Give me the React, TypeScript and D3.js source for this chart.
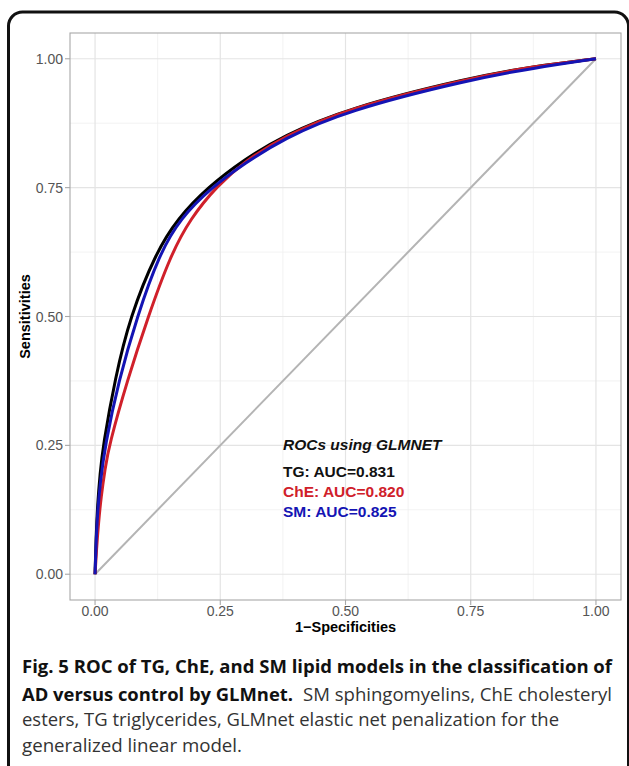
import React from "react";
import * as d3 from "d3";

// ROC points (false positive rate, true positive rate)
const tgFpr = [0, 0.002, 0.005, 0.01, 0.016, 0.04, 0.07, 0.122, 0.165, 0.224, 0.3, 0.375, 0.5, 0.75, 0.875, 1];
const tgTpr = [0, 0.07, 0.135, 0.195, 0.25, 0.38, 0.5, 0.625, 0.69, 0.75, 0.806, 0.85, 0.903, 0.964, 0.985, 1];

const cheFpr = [0, 0.003, 0.007, 0.012, 0.02, 0.028, 0.064, 0.106, 0.15, 0.19, 0.245, 0.3, 0.375, 0.5, 0.75, 0.875, 1];
const cheTpr = [0, 0.05, 0.1, 0.15, 0.205, 0.25, 0.375, 0.5, 0.617, 0.69, 0.755, 0.802, 0.848, 0.903, 0.963, 0.985, 1];

const smFpr = [0, 0.002, 0.005, 0.01, 0.02, 0.047, 0.084, 0.128, 0.17, 0.232, 0.3, 0.375, 0.5, 0.75, 0.875, 1];
const smTpr = [0, 0.06, 0.12, 0.175, 0.25, 0.375, 0.5, 0.62, 0.69, 0.75, 0.798, 0.844, 0.899, 0.96, 0.982, 1];

const majorTicks = [0, 0.25, 0.5, 0.75, 1];
const minorTicks = [0.125, 0.375, 0.625, 0.875];

const legendTitle = "ROCs using GLMNET";
const legendLabels = ["TG: AUC=0.831", "ChE: AUC=0.820", "SM: AUC=0.825"];

const RED = "#d0202a";
const BLUE = "#1414b4";

const series = [
  { name: "TG", fpr: tgFpr, tpr: tgTpr, color: "#000000" },
  { name: "ChE", fpr: cheFpr, tpr: cheTpr, color: RED },
  { name: "SM", fpr: smFpr, tpr: smTpr, color: BLUE },
];

export default function App() {
  const W = 629;
  const H = 766;
  const panel = { left: 70, right: 621, top: 33, bottom: 600 };

  const x = d3.scaleLinear().domain([-0.05, 1.05]).range([panel.left, panel.right]);
  const y = d3.scaleLinear().domain([-0.05, 1.05]).range([panel.bottom, panel.top]);

  // smooth spline through the read points
  const line = d3
    .line<[number, number]>()
    .x((d) => x(d[0]))
    .y((d) => y(d[1]))
    .curve(d3.curveBasis);

  const fmt = d3.format(".2f");
  const axisFont = "Liberation Sans, Arial, sans-serif";
  const capFont = "'Open Sans', sans-serif";

  return (
    <svg
      width={W}
      height={H}
      style={{ position: "absolute", left: 0, top: 0, display: "block", background: "#fff" }}
    >
      {/* outer frame */}
      <rect x={8.5} y={12} width={620} height={800} rx={14} fill="none" stroke="#111" strokeWidth={3} />

      {/* grid */}
      <g>
        {minorTicks.map((t) => (
          <g key={"mn" + t}>
            <line x1={x(t)} x2={x(t)} y1={panel.top} y2={panel.bottom} stroke="#efefef" strokeWidth={0.8} />
            <line y1={y(t)} y2={y(t)} x1={panel.left} x2={panel.right} stroke="#efefef" strokeWidth={0.8} />
          </g>
        ))}
        {majorTicks.map((t) => (
          <g key={"mj" + t}>
            <line x1={x(t)} x2={x(t)} y1={panel.top} y2={panel.bottom} stroke="#e4e4e4" strokeWidth={1.2} />
            <line y1={y(t)} y2={y(t)} x1={panel.left} x2={panel.right} stroke="#e4e4e4" strokeWidth={1.2} />
          </g>
        ))}
      </g>

      {/* chance diagonal */}
      <line x1={x(0)} y1={y(0)} x2={x(1)} y2={y(1)} stroke="#b4b4b4" strokeWidth={2} />

      {/* ROC curves */}
      {series.map((s) => (
        <path
          key={s.name}
          d={line(s.fpr.map((f, i) => [f, s.tpr[i]] as [number, number])) || ""}
          fill="none"
          stroke={s.color}
          strokeWidth={3}
          strokeLinejoin="round"
        />
      ))}

      {/* panel border */}
      <rect
        x={panel.left}
        y={panel.top}
        width={panel.right - panel.left}
        height={panel.bottom - panel.top}
        fill="none"
        stroke="#a8a8a8"
        strokeWidth={1.1}
      />

      {/* y axis */}
      {majorTicks.map((t) => (
        <g key={"yt" + t}>
          <line x1={panel.left - 5} x2={panel.left} y1={y(t)} y2={y(t)} stroke="#a8a8a8" strokeWidth={1.1} />
          <text
            x={panel.left - 7}
            y={y(t)}
            dy="0.36em"
            textAnchor="end"
            fontFamily={axisFont}
            fontSize={14}
            fill="#555"
          >
            {fmt(t)}
          </text>
        </g>
      ))}

      {/* x axis */}
      {majorTicks.map((t) => (
        <g key={"xt" + t}>
          <line x1={x(t)} x2={x(t)} y1={panel.bottom} y2={panel.bottom + 5} stroke="#a8a8a8" strokeWidth={1.1} />
          <text
            x={x(t)}
            y={616}
            textAnchor="middle"
            fontFamily={axisFont}
            fontSize={14}
            fill="#555"
          >
            {fmt(t)}
          </text>
        </g>
      ))}

      <text
        x={(panel.left + panel.right) / 2}
        y={632}
        textAnchor="middle"
        fontFamily={axisFont}
        fontSize={14.5}
        fontWeight="bold"
        fill="#000"
      >
        1−Specificities
      </text>
      <text
        transform={`translate(30,${(panel.top + panel.bottom) / 2}) rotate(-90)`}
        textAnchor="middle"
        fontFamily={axisFont}
        fontSize={14.5}
        fontWeight="bold"
        fill="#000"
      >
        Sensitivities
      </text>

      {/* annotation */}
      <text x={283} y={450} fontFamily={axisFont} fontSize={15.5} fontWeight="bold" fontStyle="italic" fill="#111">
        {legendTitle}
      </text>
      {legendLabels.map((lab, i) => (
        <text
          key={lab}
          x={283}
          y={477 + i * 20}
          fontFamily={axisFont}
          fontSize={15.5}
          fontWeight="bold"
          fill={series[i].color === "#000000" ? "#111" : series[i].color}
        >
          {lab}
        </text>
      ))}

      {/* caption */}
      <g fontFamily={capFont} fontSize={18.5}>
        <text x={22} y={673} fontWeight="bold" fill="#111" textLength={590} lengthAdjust="spacingAndGlyphs">
          Fig. 5 ROC of TG, ChE, and SM lipid models in the classification of
        </text>
        <text x={22} y={701} fontWeight="bold" fill="#111" textLength={271} lengthAdjust="spacingAndGlyphs">
          AD versus control by GLMnet.
        </text>
        <text x={303} y={701} fill="#333" textLength={309} lengthAdjust="spacingAndGlyphs">
          SM sphingomyelins, ChE cholesteryl
        </text>
        <text x={22} y={726} fill="#333" textLength={537} lengthAdjust="spacingAndGlyphs">
          esters, TG triglycerides, GLMnet elastic net penalization for the
        </text>
        <text x={22} y={752} fill="#333" textLength={220} lengthAdjust="spacingAndGlyphs">
          generalized linear model.
        </text>
      </g>
    </svg>
  );
}
